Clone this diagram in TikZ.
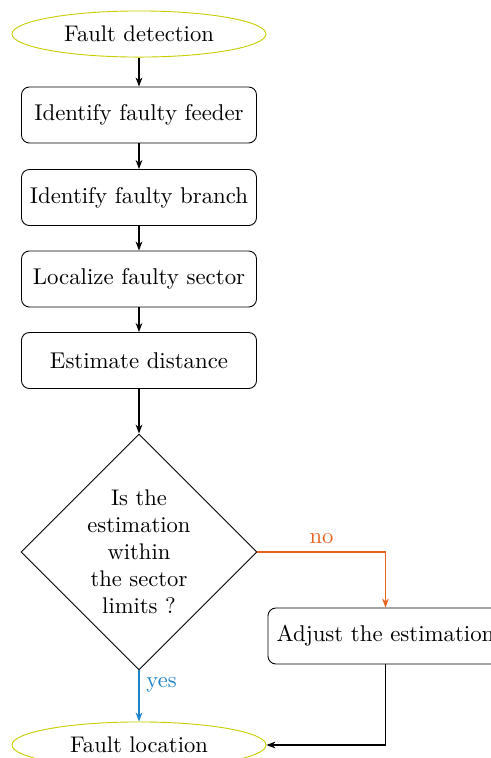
\documentclass[tikz,border=0pt]{standalone}
\usetikzlibrary{shapes.geometric,arrows.meta}
\definecolor{ellcol}{RGB}{200,205,0}
\definecolor{nocol}{RGB}{232,100,30}
\definecolor{yescol}{RGB}{30,130,200}
\begin{document}
\begin{tikzpicture}[x=0.4425pt,y=-0.4425pt,
  term/.style={ellipse,draw=ellcol,minimum width=112.4pt,minimum height=20.4pt,inner sep=0pt},
  proc/.style={rectangle,draw,rounded corners=3.5pt,minimum width=104pt,minimum height=24.8pt,inner sep=0pt,font=\fontsize{10.1}{12}\selectfont},
  dec/.style={diamond,draw,minimum width=104.4pt,minimum height=104.4pt,inner sep=0pt},
  conn/.style={-{Stealth[length=4pt,width=3pt]},semithick},
]
\useasboundingbox (0,0) rectangle (491,758);
\node[term] (fd) at (139,34) {Fault detection};
\node[proc] (b1) at (139,115) {Identify faulty feeder};
\node[proc] (b2) at (139,197.5) {Identify faulty branch};
\node[proc] (b3) at (139,279) {Localize faulty sector};
\node[proc] (b4) at (139,360.5) {Estimate distance};
\node[dec] (d) at (139,552) {};
\node[align=center,inner sep=0pt] (dt) at (139,552) {Is the\\estimation\\within\\the sector\\limits ?};
\node[proc] (adj) at (385.5,636) {Adjust the estimation};
\node[term] (fl) at (139,745) {Fault location};
\draw[conn] (fd) -- (b1);
\draw[conn] (b1) -- (b2);
\draw[conn] (b2) -- (b3);
\draw[conn] (b3) -- (b4);
\draw[conn] (b4) -- (d);
\draw[conn,nocol] (d.east) -| node[pos=0.25,above,inner sep=3.5pt] {no} (adj.north);
\draw[conn,yescol] (d.south) -- node[pos=0.28,anchor=west,inner sep=3pt] {yes} (fl.north);
\draw[conn] (adj.south) |- (fl.east);
\end{tikzpicture}
\end{document}
